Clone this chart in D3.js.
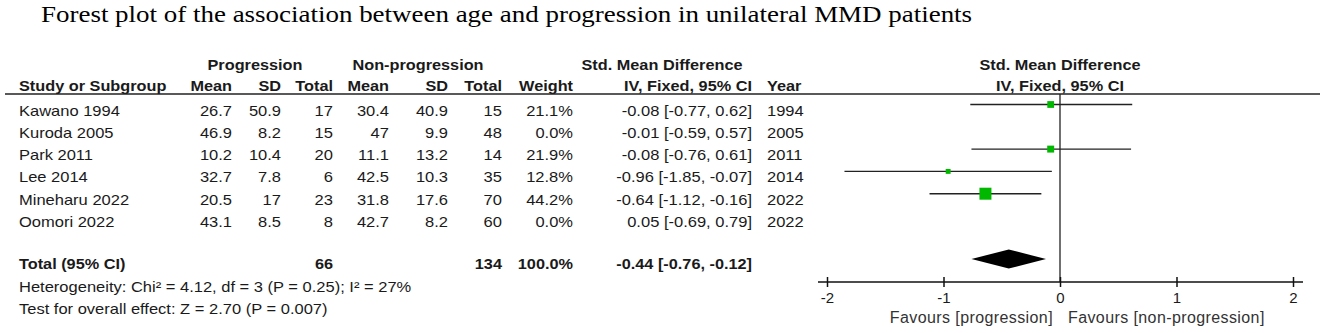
<!DOCTYPE html>
<html>
<head>
<meta charset="utf-8">
<script src="https://cdn.jsdelivr.net/npm/d3@7/dist/d3.min.js"></script>
<style>
  html, body { margin: 0; padding: 0; background: #fff; }
  svg { display: block; }
  .t { font-family: "Liberation Sans", Arial, sans-serif; font-size: 15px; fill: #1a1a1a; }
  .b { font-weight: bold; }
</style>
</head>
<body>
<svg id="chart" width="1325" height="333"></svg>
<script>
// ---------------- data ----------------
const studies   = ["Kawano 1994", "Kuroda 2005", "Park 2011", "Lee 2014", "Mineharu 2022", "Oomori 2022"];
const progMean  = [26.7, 46.9, 10.2, 32.7, 20.5, 43.1];
const progSD    = [50.9, 8.2, 10.4, 7.8, 17, 8.5];
const progTotal = [17, 15, 20, 6, 23, 8];
const nonMean   = [30.4, 47, 11.1, 42.5, 31.8, 42.7];
const nonSD     = [40.9, 9.9, 13.2, 10.3, 17.6, 8.2];
const nonTotal  = [15, 48, 14, 35, 70, 60];
const weights   = [21.1, 0.0, 21.9, 12.8, 44.2, 0.0];
const smd       = [-0.08, -0.01, -0.08, -0.96, -0.64, 0.05];
const ciLower   = [-0.77, -0.59, -0.76, -1.85, -1.12, -0.69];
const ciUpper   = [0.62, 0.57, 0.61, -0.07, -0.16, 0.79];
const years     = [1994, 2005, 2011, 2014, 2022, 2022];
const totalProg = 66;
const totalNon  = 134;
const totalWeight = 100.0;
const totalSMD  = -0.44;
const totalLower = -0.76;
const totalUpper = -0.12;
const xTicks    = [-2, -1, 0, 1, 2];
const heterogeneityText = ["Heterogeneity: Chi² = 4.12, df = 3 (P = 0.25); I² = 27%"];
const overallText = ["Test for overall effect: Z = 2.70 (P = 0.007)"];
const favoursLeft = "Favours [progression]";
const favoursRight = "Favours [non-progression]";
const title = "Forest plot of the association between age and progression in unilateral MMD patients";

// ---------------- layout ----------------
const svg = d3.select("#chart");
const x = d3.scaleLinear().domain([-2, 2]).range([827, 1293]);
const yRow = d3.scaleLinear().domain([0, 5]).range([104.5, 216]);
const totalY = 259;
const axisY = 282;
const textOff = 11;
const sq = d3.scaleLinear().domain([0, 44.2]).range([2, 12]);

// widen glyphs horizontally (reference text is rendered wider than the natural font)
function stretch(sel, f) {
  sel.each(function() {
    const len = this.getComputedTextLength();
    d3.select(this).attr("textLength", (len * f).toFixed(1)).attr("lengthAdjust", "spacingAndGlyphs");
  });
  return sel;
}
const FR = 1.10, FB = 1.085;
function txt(xp, yp, s, bold, anchor) {
  const t = svg.append("text").attr("class", bold ? "t b" : "t")
    .attr("x", xp).attr("y", yp).attr("text-anchor", anchor || "start").text(s);
  stretch(t, bold ? FB : FR);
  return t;
}

// title
const tt = svg.append("text")
  .attr("x", 41).attr("y", 22)
  .style("font-family", '"Liberation Serif", "Times New Roman", serif')
  .style("font-size", "24px").style("fill", "#000")
  .text(title);
stretch(tt, 1.123);

// column definitions (right-aligned positions)
const cols = [
  {x: 232, head: "Mean",  vals: progMean.map(String)},
  {x: 281, head: "SD",    vals: progSD.map(String)},
  {x: 333, head: "Total", vals: progTotal.map(String)},
  {x: 389, head: "Mean",  vals: nonMean.map(String)},
  {x: 448, head: "SD",    vals: nonSD.map(String)},
  {x: 502, head: "Total", vals: nonTotal.map(String)},
  {x: 573, head: "Weight", vals: weights.map(w => w.toFixed(1) + "%")},
  {x: 752, head: "IV, Fixed, 95% CI", vals: smd.map((d, i) => d.toFixed(2) + " [" + ciLower[i].toFixed(2) + ", " + ciUpper[i].toFixed(2) + "]")}
];

const headY1 = 70, headY2 = 91;
// group headers
txt(255, headY1, "Progression", true, "middle");
txt(418, headY1, "Non-progression", true, "middle");
txt(662, headY1, "Std. Mean Difference", true, "middle");
txt(x(0), headY1, "Std. Mean Difference", true, "middle");
txt(x(0), headY2, "IV, Fixed, 95% CI", true, "middle");

txt(19, headY2, "Study or Subgroup", true);
cols.forEach(c => txt(c.x, headY2, c.head, true, "end"));
txt(767, headY2, "Year", true);

// header underline
svg.append("line").attr("x1", 5).attr("x2", 1320).attr("y1", 94).attr("y2", 94)
  .attr("stroke", "#222").attr("stroke-width", 1.5);

// rows
studies.forEach((s, i) => {
  const ty = yRow(i) + textOff;
  txt(19, ty, s, false);
  cols.forEach(c => txt(c.x, ty, c.vals[i], false, "end"));
  txt(767, ty, String(years[i]), false);
});

// total row
const tty = totalY + 10;
txt(19, tty, "Total (95% CI)", true);
txt(333, tty, String(totalProg), true, "end");
txt(502, tty, String(totalNon), true, "end");
txt(573, tty, totalWeight.toFixed(1) + "%", true, "end");
txt(752, tty, totalSMD.toFixed(2) + " [" + totalLower.toFixed(2) + ", " + totalUpper.toFixed(2) + "]", true, "end");

txt(19, 292, heterogeneityText[0], false);
txt(19, 314, overallText[0], false);

// ---------------- forest panel ----------------
// zero line
svg.append("line").attr("x1", x(0)).attr("x2", x(0)).attr("y1", 94).attr("y2", axisY)
  .attr("stroke", "#222").attr("stroke-width", 1.3);

const plotted = studies.map((s, i) => i).filter(i => weights[i] > 0);
svg.selectAll("line.ci").data(plotted).join("line").attr("class", "ci")
  .attr("x1", i => x(ciLower[i])).attr("x2", i => x(ciUpper[i]))
  .attr("y1", i => yRow(i)).attr("y2", i => yRow(i))
  .attr("stroke", "#222").attr("stroke-width", 1.4);
svg.selectAll("rect.pt").data(plotted).join("rect").attr("class", "pt")
  .attr("x", i => x(smd[i]) - sq(weights[i]) / 2)
  .attr("y", i => yRow(i) - sq(weights[i]) / 2)
  .attr("width", i => sq(weights[i])).attr("height", i => sq(weights[i]))
  .attr("fill", "#00b800");

// diamond
svg.append("path")
  .attr("d", `M${x(totalLower)},${totalY} L${x(totalSMD)},${totalY - 9.5} L${x(totalUpper)},${totalY} L${x(totalSMD)},${totalY + 9.5} Z`)
  .attr("fill", "#000");

// axis
svg.append("line").attr("x1", 818).attr("x2", 1303).attr("y1", axisY).attr("y2", axisY)
  .attr("stroke", "#111").attr("stroke-width", 1.5);
const axis = d3.axisBottom(x).tickValues(xTicks).tickSize(5).tickPadding(5).tickFormat(d => String(d));
const ag = svg.append("g").attr("transform", `translate(0,${axisY})`).call(axis);
ag.select(".domain").remove();
ag.selectAll(".tick line").attr("y1", -5).attr("y2", 5).attr("stroke", "#111").attr("stroke-width", 1.5);
ag.selectAll(".tick text").attr("class", "t").style("font-size", "15px").attr("fill", "#1a1a1a");

svg.append("text").attr("class", "t").attr("x", 1053).attr("y", 323).attr("text-anchor", "end")
  .style("font-size", "16px").style("letter-spacing", "0.4px").style("fill", "#333").text(favoursLeft);
svg.append("text").attr("class", "t").attr("x", 1068).attr("y", 323)
  .style("font-size", "16px").style("letter-spacing", "0.4px").style("fill", "#333").text(favoursRight);
</script>
</body>
</html>
